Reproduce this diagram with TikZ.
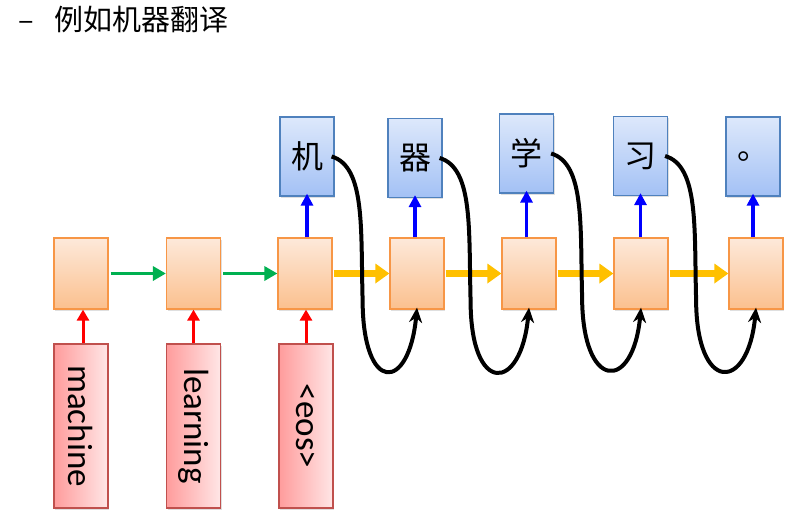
\documentclass[tikz,border=0pt]{standalone}
\usepackage{fontspec}
\setmainfont{Carlito}
\newfontfamily\cjk{Noto Sans CJK SC}
\usetikzlibrary{arrows.meta,shadows}
\definecolor{orbord}{HTML}{F79646}
\definecolor{ortop}{HTML}{FDE9DA}
\definecolor{orbot}{HTML}{FBC08E}
\definecolor{blbord}{HTML}{4F81BD}
\definecolor{bltop}{HTML}{DDE8FB}
\definecolor{blbot}{HTML}{A3C1F5}
\definecolor{rdbord}{HTML}{C0504D}
\definecolor{rdleft}{HTML}{FF9C9C}
\definecolor{rdright}{HTML}{FFE6E6}
\definecolor{grn}{HTML}{00B050}
\definecolor{ylw}{HTML}{FFC000}
\tikzset{
  x=1pt,y=-1pt,
  hid/.style={draw=orbord,line width=1.2pt,top color=ortop,bottom color=orbot,minimum width=54pt,minimum height=71pt,inner sep=0pt,drop shadow={shadow xshift=1pt,shadow yshift=-1.5pt,opacity=0.25}},
  outb/.style={draw=blbord,line width=1.2pt,top color=bltop,bottom color=blbot,minimum width=54pt,minimum height=79pt,inner sep=0pt,font=\cjk\fontsize{32}{36}\selectfont,drop shadow={shadow xshift=1pt,shadow yshift=-1.5pt,opacity=0.25}},
  inb/.style={draw=rdbord,line width=1.2pt,left color=rdleft,right color=rdright,minimum width=54pt,minimum height=164pt,inner sep=0pt,drop shadow={shadow xshift=1pt,shadow yshift=-1.5pt,opacity=0.25}},
  intxt/.style={rotate=-90,font=\fontsize{35}{38}\selectfont,inner sep=0pt},
  garrow/.style={draw=grn,line width=3.5pt,-{Triangle[length=13pt,width=14pt]}},
  yarrow/.style={draw=ylw,line width=6.5pt,-{Triangle[length=14pt,width=19pt]}},
  rarrow/.style={draw=red,line width=3pt,-{Triangle[length=11pt,width=12pt]}},
  barrow/.style={draw=blue,line width=3.2pt,-{Triangle[length=12pt,width=12pt]}},
  curv/.style={draw=black,line width=4pt,-{Stealth[length=15pt,width=13pt]}},
}
\begin{document}
\begin{tikzpicture}
\useasboundingbox (0,0) rectangle (800,517);
% title
\node[anchor=west,inner sep=0pt,font=\cjk\fontsize{29}{32}\selectfont] (title) at (18,20) {–\hspace{0.72em}例如机器翻译};
% hidden boxes
\node[hid] (h1) at (81,273.5) {};
\node[hid] (h2) at (193.5,273.5) {};
\node[hid] (h3) at (305,273.5) {};
\node[hid] (h4) at (417,273.5) {};
\node[hid] (h5) at (529,273.5) {};
\node[hid] (h6) at (641,273.5) {};
\node[hid] (h7) at (756,273.5) {};
% output boxes
\node[outb] (o3) at (307,156.5) {机};
\node[outb] (o4) at (415,158) {器};
\node[outb] (o5) at (526.5,153.5) {学};
\node[outb] (o6) at (640.5,156) {习};
\node[outb] (o7) at (753,156.5) {。};
% input boxes
\node[inb] (i1) at (81,426) {};
\node[inb] (i2) at (193.5,426) {};
\node[inb] (i3) at (306,426) {};
\node[intxt] (t1) at (i1.center) {machine};
\node[intxt] (t2) at (i2.center) {learning};
\node[intxt] (t3) at (i3.center) {<eos>};
% input arrows
\draw[rarrow] ([xshift=2pt]i1.north) -- ([xshift=2pt]h1.south);
\draw[rarrow] (i2.north) -- (h2.south);
\draw[rarrow] (i3.north) -- (i3.north |- h3.south);
% encoder arrows
\draw[garrow] ([xshift=2pt]h1.east) -- (h2.west);
\draw[garrow] ([xshift=2pt]h2.east) -- (h3.west);
% decoder arrows
\draw[yarrow] ([xshift=1pt]h3.east) -- (h4.west);
\draw[yarrow] ([xshift=1pt]h4.east) -- (h5.west);
\draw[yarrow] ([xshift=1pt]h5.east) -- (h6.west);
\draw[yarrow] ([xshift=1pt]h6.east) -- (h7.west);
% output arrows
\draw[barrow] (o3.south |- h3.north) -- ([yshift=3pt]o3.south);
\draw[barrow] (o4.south |- h4.north) -- ([yshift=3pt]o4.south);
\draw[barrow] (o5.south |- h5.north) -- ([yshift=3pt]o5.south);
\draw[barrow] (o6.south |- h6.north) -- ([yshift=3pt]o6.south);
\draw[barrow] (o7.south |- h7.north) -- ([yshift=3pt]o7.south);
% feedback curves
\draw[curv] ([xshift=-3pt]o3.east) .. controls +(34,10) and +(-2,-70) .. ++(31,143) .. controls +(0,95) and +(-8,85) .. ([yshift=2pt]h4.south);
\draw[curv] ([xshift=-3pt]o4.east) .. controls +(34,10) and +(-2,-70) .. ++(31,143) .. controls +(0,95) and +(-8,85) .. ([yshift=2pt]h5.south);
\draw[curv] ([xshift=-3pt]o5.east) .. controls +(34,10) and +(-2,-70) .. ++(31,143) .. controls +(0,95) and +(-8,85) .. ([yshift=2pt]h6.south);
\draw[curv] ([xshift=-3pt]o6.east) .. controls +(34,10) and +(-2,-70) .. ++(31,143) .. controls +(0,95) and +(-8,85) .. ([yshift=2pt]h7.south);
\end{tikzpicture}
\end{document}
